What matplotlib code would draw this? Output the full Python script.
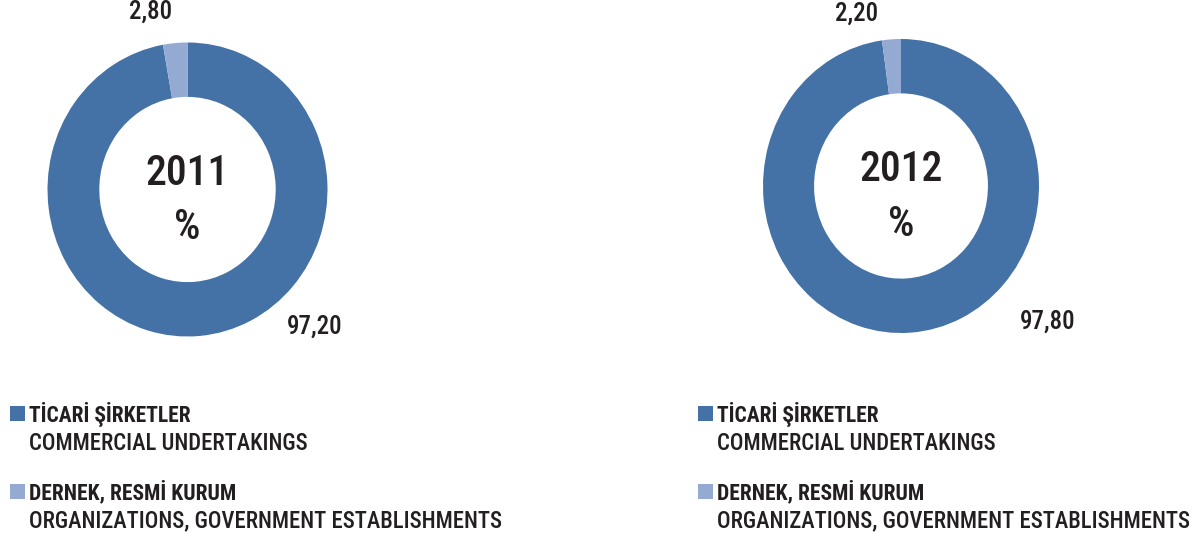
import matplotlib.pyplot as plt
from matplotlib.patches import Rectangle
from matplotlib import font_manager

# data
years = ['2011', '2012']
commercial = [97.20, 97.80]
organizations = [2.80, 2.20]
label_commercial = ['TİCARİ ŞİRKETLER', 'COMMERCIAL UNDERTAKINGS']
label_org = ['DERNEK, RESMİ KURUM', 'ORGANIZATIONS, GOVERNMENT ESTABLISHMENTS']

dark = '#4472A7'
light = '#95AAD3'
txt = '#231F20'

# condensed font if there is one, otherwise Liberation Sans a bit smaller
names = {f.name for f in font_manager.fontManager.ttflist}
narrow = [n for n in ['Liberation Sans Narrow', 'Roboto Condensed',
                      'Open Sans Condensed', 'Noto Sans Condensed'] if n in names]
if narrow:
    plt.rcParams['font.family'] = [narrow[0], 'DejaVu Sans']
    sz_big, sz_lbl, sz_bold, sz_leg = 30, 18, 15.5, 16.3
else:
    plt.rcParams['font.family'] = ['Liberation Sans', 'DejaVu Sans']
    sz_big, sz_lbl, sz_bold, sz_leg = 26, 15, 13, 13

W, H = 1193, 537
fig = plt.figure(figsize=(W / 100, H / 100), dpi=100)

def px_axes(cx, cy, rx, ry):
    # axes in pixel units (top-left origin) -> figure fraction
    return fig.add_axes([(cx - rx) / W, (H - cy - ry) / H, 2 * rx / W, 2 * ry / H])

def px_text(x, y, s, **kw):
    fig.text(x / W, 1 - y / H, s, color=txt, **kw)

# donut geometry (pixels) and label positions
centers = [(187.5, 189.5, 140, 147), (901, 186, 138, 147)]
small_lbl = [(151, 12), (857, 14)]
big_lbl = [(315, 327), (1048, 322)]

for i, yr in enumerate(years):
    cx, cy, rx, ry = centers[i]
    ax = px_axes(cx, cy, rx, ry)
    ax.pie([commercial[i], organizations[i]], colors=[dark, light],
           startangle=90, counterclock=False, radius=1,
           wedgeprops=dict(width=0.37, linewidth=0))
    ax.set_xlim(-1, 1)
    ax.set_ylim(-1, 1)
    ax.set_aspect('auto')
    ax.axis('off')
    ax.text(0, 0.11, yr, ha='center', va='center', fontsize=sz_big, color=txt,
            fontweight='medium')
    ax.text(0, -0.26, '%', ha='center', va='center', fontsize=sz_big, color=txt,
            fontweight='medium')
    px_text(*small_lbl[i], f'{organizations[i]:.2f}'.replace('.', ','),
            ha='center', va='center', fontsize=sz_lbl, fontweight='medium')
    px_text(*big_lbl[i], f'{commercial[i]:.2f}'.replace('.', ','),
            ha='center', va='center', fontsize=sz_lbl, fontweight='medium')

# legends
for lx in [10, 698]:
    for (y_sq, y1, y2, col, lab) in [(406, 422, 450, dark, label_commercial),
                                      (484, 499, 527, light, label_org)]:
        fig.patches.append(Rectangle((lx / W, 1 - (y_sq + 15) / H), 15 / W, 15 / H,
                                     transform=fig.transFigure, facecolor=col,
                                     edgecolor='none'))
        px_text(lx + 19, y1, lab[0], ha='left', va='baseline', fontsize=sz_bold,
                fontweight='bold')
        px_text(lx + 19, y2, lab[1], ha='left', va='baseline', fontsize=sz_leg,
                fontweight='medium')

fig.savefig('out.png', dpi=100)
